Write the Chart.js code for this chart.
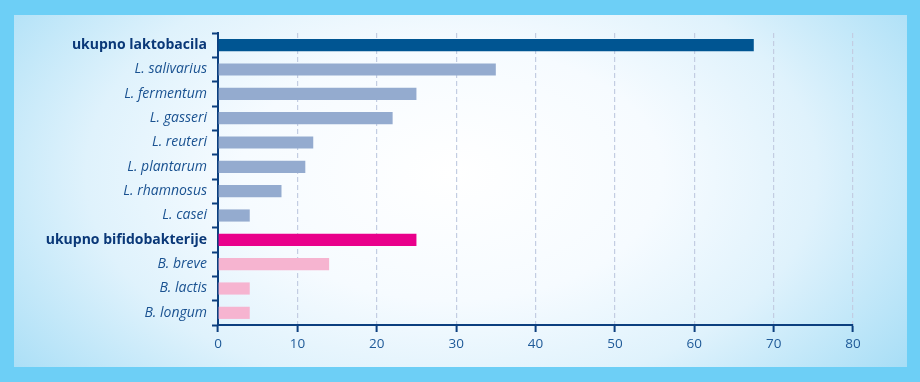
<!DOCTYPE html>
<html>
<head>
<meta charset="utf-8">
<script src="https://cdn.jsdelivr.net/npm/chart.js@4/dist/chart.umd.min.js"></script>
<style>
  html, body { margin: 0; padding: 0; width: 920px; height: 382px; overflow: hidden; background: #6dcff6; }
  #panel { position: absolute; left: 14px; top: 15px; width: 893px; height: 352px;
    background: radial-gradient(ellipse 62% 95% at 49% 45%, #ffffff 0%, #f6fbff 38%, #dff2fc 66%, #a8def6 100%); }
  #wrap { position: absolute; left: 0; top: 0; width: 920px; height: 382px; }
</style>
</head>
<body>
<div id="panel"></div>
<div id="wrap"><canvas id="c" width="920" height="382"></canvas></div>
<script>
const categories = [
  "ukupno laktobacila", "L. salivarius", "L. fermentum", "L. gasseri", "L. reuteri",
  "L. plantarum", "L. rhamnosus", "L. casei",
  "ukupno bifidobakterije", "B. breve", "B. lactis", "B. longum"
];
const values = [67.5, 35, 25, 22, 12, 11, 8, 4, 25, 14, 4, 4];
const totalRows = [0, 8];
const xTicks = [0, 10, 20, 30, 40, 50, 60, 70, 80];

const barColors = categories.map((c, i) => {
  if (i === 0) return '#005592';
  if (i < 8) return '#94abcf';
  if (i === 8) return '#e9008b';
  return '#f6b4d0';
});

const navy = '#0c3f7f';

new Chart(document.getElementById('c'), {
  type: 'bar',
  data: {
    labels: categories,
    datasets: [{
      data: values,
      backgroundColor: barColors,
      borderWidth: 0,
      categoryPercentage: 1,
      barPercentage: 0.5
    }]
  },
  options: {
    indexAxis: 'y',
    responsive: false,
    animation: false,
    devicePixelRatio: 1,
    layout: { padding: { top: 33, right: 67, bottom: 0, left: 0 } },
    plugins: { legend: { display: false }, tooltip: { enabled: false } },
    scales: {
      x: {
        min: 0, max: 80,
        afterBuildTicks: (s) => { s.ticks = xTicks.map(v => ({ value: v })); },
        afterFit: (s) => { s.height = 57; },
        grid: { color: '#c3cde2', lineWidth: 1.2, tickColor: navy, tickLength: 7, tickWidth: 2 },
        border: { color: navy, width: 2, dash: [5, 3] },
        ticks: { color: '#1f5a98', padding: 4, font: { family: 'Open Sans', size: 13.5 } }
      },
      y: {
        afterFit: (s) => { s.width = 218; },
        grid: { offset: true, drawOnChartArea: false, tickColor: navy, tickLength: 6, tickWidth: 2 },
        border: { color: navy, width: 2 },
        ticks: {
          padding: 5,
          color: (ctx) => totalRows.includes(ctx.index) ? '#0a3878' : '#1a5291',
          font: (ctx) => totalRows.includes(ctx.index)
            ? { family: 'Open Sans', size: 14, weight: 'bold', style: 'normal' }
            : { family: 'Open Sans', size: 14, weight: 'normal', style: 'italic' }
        }
      }
    }
  }
});
</script>
</body>
</html>
